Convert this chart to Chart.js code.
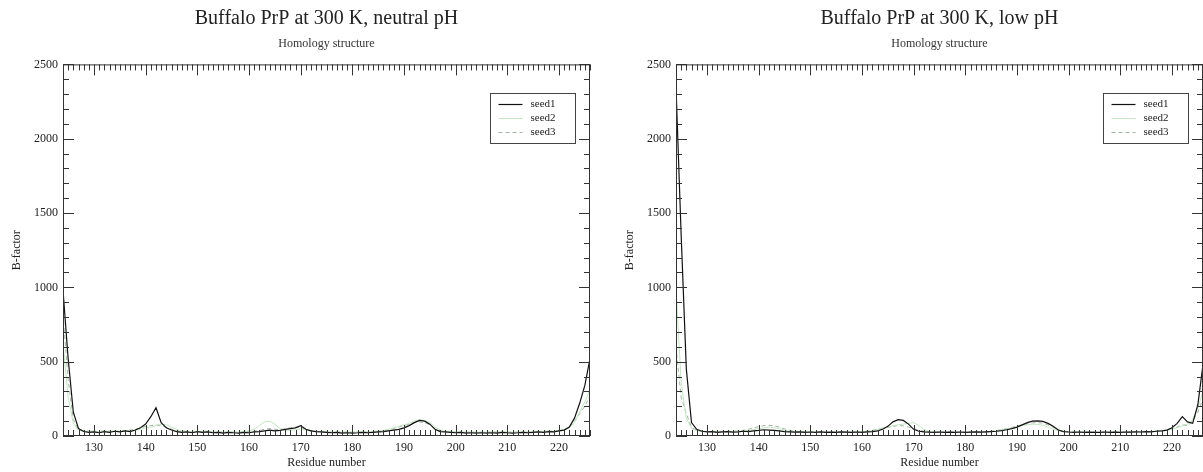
<!DOCTYPE html>
<html>
<head>
<meta charset="utf-8">
<script src="https://cdn.jsdelivr.net/npm/chart.js@4"></script>
<style>
  body { margin: 0; background: #fff; overflow: hidden; width: 1203px; height: 472px; position: relative; }
  .panel { position: absolute; top: 0; width: 600px; height: 472px; }
</style>
</head>
<body>
<div class="panel" style="left:0"><canvas id="neutral"></canvas></div>
<div class="panel" style="left:613px"><canvas id="low"></canvas></div>
<script>
// residues 124..226
const firstResidue = 124;
const lastResidue = 226;
const residues = Array.from({length: lastResidue - firstResidue + 1}, (_, i) => firstResidue + i);

const yTicks = [0, 500, 1000, 1500, 2000, 2500];
const xTicks = [130, 140, 150, 160, 170, 180, 190, 200, 210, 220];
const seedNames = ["seed1", "seed2", "seed3"];

// neutral pH
const neutralSeed1 = [
  980, 520, 160, 50, 30, 25, 28, 22, 30, 25,
  32, 28, 35, 30, 40, 55, 80, 130, 190, 90,
  55, 40, 30, 25, 28, 22, 30, 25, 28, 22,
  25, 20, 25, 22, 20, 25, 22, 28, 30, 35,
  40, 35, 38, 45, 50, 55, 70, 45, 35, 30,
  28, 25, 22, 25, 20, 22, 20, 22, 25, 22,
  25, 28, 30, 35, 40, 45, 55, 70, 90, 105,
  100, 80, 45, 30, 28, 25, 22, 25, 20, 22,
  20, 22, 20, 22, 20, 25, 22, 20, 22, 25,
  22, 25, 28, 25, 30, 28, 35, 40, 60, 120,
  220, 340, 520
];
const neutralSeed2 = [
  620, 260, 85, 40, 32, 30, 35, 28, 33, 30,
  35, 30, 38, 34, 40, 45, 55, 60, 70, 80,
  75, 60, 45, 35, 30, 28, 32, 30, 34, 28,
  30, 26, 30, 28, 26, 32, 35, 45, 70, 95,
  100, 80, 50, 40, 38, 42, 48, 40, 32, 30,
  28, 30, 26, 28, 25, 27, 25, 28, 30, 28,
  30, 34, 38, 45, 55, 65, 75, 85, 100, 110,
  105, 90, 60, 40, 32, 30, 28, 30, 26, 28,
  25, 27, 25, 28, 26, 30, 27, 25, 28, 30,
  28, 30, 32, 30, 35, 33, 40, 45, 55, 90,
  160, 230, 310
];
const neutralSeed3 = [
  820, 380, 110, 45, 35, 32, 30, 30, 35, 32,
  30, 34, 36, 40, 45, 55, 65, 70, 75, 70,
  60, 45, 35, 30, 32, 28, 30, 28, 30, 26,
  28, 25, 28, 26, 25, 28, 30, 32, 38, 45,
  50, 45, 42, 48, 55, 60, 58, 45, 35, 30,
  28, 26, 25, 28, 24, 26, 25, 27, 28, 26,
  28, 30, 35, 40, 50, 60, 70, 80, 90, 95,
  90, 75, 50, 35, 30, 28, 26, 28, 25, 26,
  24, 26, 25, 27, 25, 28, 26, 25, 27, 28,
  26, 28, 30, 28, 32, 30, 36, 42, 60, 100,
  150, 200, 270
];

// low pH
const lowSeed1 = [
  2350, 1350, 450, 90, 45, 32, 28, 30, 25, 28,
  30, 26, 28, 32, 30, 35, 38, 42, 40, 38,
  35, 30, 28, 26, 28, 25, 27, 25, 28, 24,
  26, 25, 28, 26, 24, 27, 25, 28, 30, 35,
  45, 65, 95, 110, 105, 80, 45, 32, 28, 26,
  25, 27, 24, 26, 25, 27, 24, 26, 28, 26,
  28, 30, 32, 36, 42, 50, 60, 75, 90, 100,
  102, 98, 85, 65, 40, 30, 27, 25, 27, 24,
  26, 24, 25, 27, 24, 26, 25, 27, 26, 28,
  27, 30, 28, 32, 35, 40, 55, 85, 130, 95,
  85, 210, 480
];
const lowSeed2 = [
  1000, 360, 120, 50, 35, 30, 32, 28, 30, 28,
  30, 28, 32, 35, 38, 42, 50, 55, 60, 55,
  50, 40, 32, 28, 30, 27, 28, 26, 28, 25,
  27, 25, 26, 28, 25, 27, 30, 32, 36, 45,
  55, 60, 70, 75, 80, 85, 90, 70, 45, 32,
  28, 27, 25, 27, 25, 26, 24, 27, 28, 27,
  28, 30, 34, 40, 48, 55, 62, 70, 75, 80,
  78, 72, 60, 45, 35, 30, 27, 26, 28, 25,
  26, 25, 24, 26, 25, 27, 25, 26, 27, 28,
  27, 28, 30, 32, 34, 38, 45, 55, 70, 80,
  110, 190, 300
];
const lowSeed3 = [
  600, 260, 150, 60, 38, 32, 30, 30, 28, 30,
  32, 30, 34, 38, 45, 55, 62, 70, 72, 68,
  60, 48, 38, 32, 30, 28, 30, 27, 29, 26,
  28, 26, 27, 25, 26, 28, 30, 33, 38, 45,
  52, 58, 65, 70, 68, 60, 50, 40, 32, 29,
  27, 26, 25, 27, 24, 26, 25, 27, 28, 26,
  28, 32, 36, 42, 50, 58, 66, 75, 82, 88,
  90, 86, 75, 58, 40, 32, 28, 27, 26, 25,
  25, 26, 24, 27, 25, 26, 25, 27, 26, 27,
  27, 29, 30, 32, 35, 40, 48, 60, 75, 70,
  100, 160, 250
];

const SERIF = "'Liberation Serif', 'DejaVu Serif', serif";
const TEXT = "#222";

// box + inward ticks on all four sides, like xmgrace
const frameTicks = {
  id: "frameTicks",
  afterDatasetsDraw(chart) {
    const {ctx, chartArea: a, scales: {x, y}} = chart;
    ctx.save();
    ctx.strokeStyle = "#333";
    ctx.lineWidth = 1;
    ctx.strokeRect(a.left + 0.5, a.top + 0.5, a.right - a.left - 1, a.bottom - a.top - 1);
    ctx.beginPath();
    for (let v = Math.ceil(x.min); v <= x.max; v++) {
      const px = Math.round(x.getPixelForValue(v)) + 0.5;
      const len = v % 10 === 0 ? 11 : 6;
      ctx.moveTo(px, a.bottom); ctx.lineTo(px, a.bottom - len);
      ctx.moveTo(px, a.top); ctx.lineTo(px, a.top + len);
    }
    for (let v = y.min; v <= y.max; v += 100) {
      const py = Math.round(y.getPixelForValue(v)) + 0.5;
      const len = v % 500 === 0 ? 11 : 6;
      ctx.moveTo(a.left, py); ctx.lineTo(a.left + len, py);
      ctx.moveTo(a.right, py); ctx.lineTo(a.right - len, py);
    }
    ctx.stroke();
    ctx.restore();
  }
};

const seedLegend = {
  id: "seedLegend",
  afterDraw(chart, args, opts) {
    const {ctx, chartArea: a} = chart;
    const w = 85, h = 50;
    const bx = Math.round(a.right - opts.right - w) + 0.5;
    const by = Math.round(a.top + opts.top) + 0.5;
    ctx.save();
    ctx.fillStyle = "#fff";
    ctx.fillRect(bx, by, w, h);
    ctx.strokeStyle = "#444";
    ctx.lineWidth = 1;
    ctx.strokeRect(bx, by, w, h);
    chart.data.datasets.forEach((ds, i) => {
      const yy = by + 11 + i * 14;
      ctx.strokeStyle = ds.borderColor;
      ctx.lineWidth = ds.borderWidth;
      ctx.setLineDash(ds.borderDash || []);
      ctx.beginPath();
      ctx.moveTo(bx + 8, yy); ctx.lineTo(bx + 32, yy);
      ctx.stroke();
      ctx.setLineDash([]);
      ctx.fillStyle = TEXT;
      ctx.font = "11px " + SERIF;
      ctx.textBaseline = "middle";
      ctx.fillText(ds.label, bx + 40, yy);
    });
    ctx.restore();
  }
};

function toPoints(values) {
  return residues.map((r, i) => ({x: r, y: values[i]}));
}

function makeChart(id, titleText, s1, s2, s3) {
  const ctx = document.getElementById(id).getContext("2d");
  return new Chart(ctx, {
    type: "line",
    data: {
      datasets: [
        {label: seedNames[0], data: toPoints(s1), borderColor: "#111", borderWidth: 1.2},
        {label: seedNames[1], data: toPoints(s2), borderColor: "#c6e4c6", borderWidth: 1},
        {label: seedNames[2], data: toPoints(s3), borderColor: "#a3b3a3", borderWidth: 1, borderDash: [4, 3]}
      ]
    },
    options: {
      responsive: true,
      maintainAspectRatio: false,
      animation: false,
      elements: {point: {radius: 0}, line: {tension: 0}},
      layout: {padding: {top: 0, right: 10, bottom: 0, left: 0}},
      plugins: {
        legend: {display: false},
        tooltip: {enabled: false},
        title: {
          display: true, text: titleText, color: TEXT, fullSize: false,
          font: {family: SERIF, size: 20, weight: "normal"},
          padding: {top: 7, bottom: 2}
        },
        subtitle: {
          display: true, text: "Homology structure", color: "#333", fullSize: false,
          font: {family: SERIF, size: 12, weight: "normal"},
          padding: {top: 4, bottom: 13}
        },
        seedLegend: {right: 15, top: 29}
      },
      scales: {
        x: {
          type: "linear", min: firstResidue, max: lastResidue,
          grid: {display: false, drawTicks: false}, border: {display: false},
          afterBuildTicks: s => { s.ticks = xTicks.map(v => ({value: v})); },
          afterFit: s => { s.height = 36; },
          ticks: {color: TEXT, font: {family: SERIF, size: 12}, padding: 5, maxRotation: 0, autoSkip: false},
          title: {display: true, text: "Residue number", color: TEXT, font: {family: SERIF, size: 12}, padding: {top: 0, bottom: 2}}
        },
        y: {
          min: 0, max: 2500,
          grid: {display: false, drawTicks: false}, border: {display: false},
          afterBuildTicks: s => { s.ticks = yTicks.map(v => ({value: v})); },
          afterFit: s => { s.width = 63; },
          ticks: {color: TEXT, font: {family: SERIF, size: 12}, padding: 5, callback: v => String(v)},
          title: {display: true, text: "B-factor", color: TEXT, font: {family: SERIF, size: 12}, padding: {top: 10, bottom: 0}}
        }
      }
    },
    plugins: [frameTicks, seedLegend]
  });
}

makeChart("neutral", "Buffalo PrP at 300 K, neutral pH", neutralSeed1, neutralSeed2, neutralSeed3);
makeChart("low", "Buffalo PrP at 300 K, low pH", lowSeed1, lowSeed2, lowSeed3);
</script>
</body>
</html>
